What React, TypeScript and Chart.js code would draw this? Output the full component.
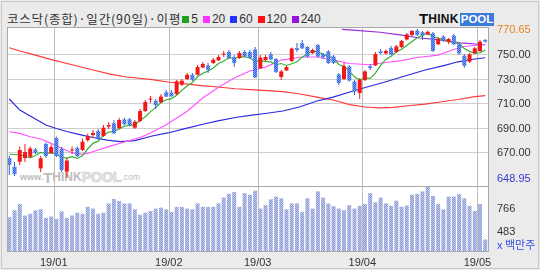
import React, { useEffect, useRef } from "react";
import { Chart, registerables } from "chart.js";

Chart.register(...registerables);

// ---------------- data ----------------
const opens = [
  665.3, 658.2, 662.3, 665.3, 666.4, 672.3, 656.9, 676.8, 669.4, 681.7,
  672.7, 654.2, 671.5, 673.5, 671.9, 680.0, 684.1, 687.4, 683.3, 691.1,
  693.7, 689.6, 696.9, 696.9, 690.1, 695.5, 703.7, 713.1, 712.1, 710.8,
  719.0, 718.8, 717.6, 725.2, 729.8, 733.3, 733.3, 739.2, 741.0, 742.9,
  745.1, 749.8, 751.9, 747.6, 747.0, 751.9, 751.9, 753.9, 738.8, 745.3,
  750.0, 746.2, 731.5, 736.8, 744.5, 755.1, 759.0, 756.0, 751.1, 757.6,
  750.2, 752.3, 748.2, 733.5, 729.8, 740.0, 727.8, 718.4, 729.0, 740.2,
  740.9, 752.4, 750.7, 755.1, 751.9, 756.0, 762.1, 765.8, 769.4, 768.0,
  766.3, 767.1, 758.2, 764.4, 760.0, 765.2, 758.2, 748.9, 744.0, 750.8,
  752.7, 761.7,
];
const highs = [
  667.0, 662.1, 674.6, 676.8, 674.7, 673.5, 667.2, 678.0, 676.4, 682.9,
  674.3, 665.3, 674.7, 674.7, 681.3, 685.3, 688.2, 689.0, 692.3, 694.5,
  696.4, 698.2, 698.2, 698.0, 696.4, 705.3, 712.7, 716.0, 713.5, 717.6,
  720.9, 720.9, 729.0, 729.8, 734.7, 734.7, 741.3, 743.7, 742.9, 747.0,
  749.4, 752.7, 753.5, 749.4, 752.7, 753.5, 753.5, 756.0, 749.4, 749.4,
  751.9, 747.0, 737.2, 740.9, 755.5, 759.2, 761.7, 756.8, 754.7, 758.4,
  751.1, 753.5, 749.4, 734.7, 742.9, 741.3, 729.0, 730.7, 737.2, 742.1,
  751.9, 754.3, 753.9, 756.8, 757.6, 761.7, 767.4, 769.8, 770.65, 769.0,
  769.4, 768.2, 764.1, 765.8, 763.3, 766.6, 759.2, 750.2, 751.1, 756.0,
  761.7, 762.5,
];
const lows = [
  651.5, 650.7, 659.6, 662.1, 665.3, 668.6, 653.9, 665.3, 668.6, 666.2,
  653.9, 648.95, 668.6, 666.2, 671.1, 678.7, 681.7, 680.0, 682.7, 689.0,
  684.9, 689.0, 692.3, 691.5, 689.0, 694.7, 702.9, 710.2, 705.3, 710.2,
  715.1, 715.1, 716.8, 724.1, 729.0, 728.2, 732.7, 738.8, 734.7, 742.1,
  744.5, 747.8, 746.2, 739.9, 746.2, 747.8, 746.2, 730.7, 738.0, 744.5,
  745.3, 734.7, 729.0, 736.4, 743.7, 751.9, 754.3, 747.4, 750.2, 747.4,
  746.2, 742.1, 742.1, 724.9, 729.0, 727.8, 716.8, 713.5, 728.2, 737.2,
  740.4, 749.8, 749.8, 749.4, 751.1, 755.1, 761.3, 764.9, 764.9, 761.7,
  765.8, 751.9, 757.6, 760.0, 758.4, 757.6, 749.4, 739.1, 742.9, 750.2,
  751.9, 759.6,
];
const closes = [
  659.6, 652.3, 671.9, 670.2, 673.1, 669.4, 665.1, 667.0, 674.3, 667.0,
  655.5, 663.3, 672.3, 667.0, 678.7, 683.1, 685.8, 681.4, 690.1, 692.3,
  685.5, 696.4, 692.9, 692.3, 695.0, 703.7, 711.1, 713.9, 708.6, 715.5,
  715.5, 715.8, 728.0, 728.4, 733.3, 729.3, 739.6, 742.1, 737.4, 745.6,
  747.8, 750.6, 747.0, 742.9, 751.1, 748.4, 747.0, 731.1, 747.4, 747.8,
  745.8, 735.6, 736.0, 739.6, 754.7, 753.5, 754.9, 748.2, 753.5, 748.2,
  747.8, 742.9, 742.9, 726.6, 740.4, 728.6, 719.6, 729.0, 736.0, 738.8,
  750.2, 751.1, 752.7, 749.8, 756.4, 760.9, 766.3, 769.0, 765.8, 765.8,
  768.4, 752.7, 762.5, 761.3, 762.5, 758.2, 750.8, 740.7, 750.0, 754.9,
  760.3, 760.3,
];
// volume, x 백만주
const volumes = [
  652, 737, 813, 673, 694, 737, 749, 644, 661, 631,
  724, 644, 673, 707, 694, 779, 758, 694, 707, 821,
  876, 851, 821, 821, 749, 682, 707, 728, 758, 770,
  749, 715, 779, 779, 758, 749, 821, 779, 779, 779,
  821, 893, 939, 960, 779, 948, 927, 977, 758, 800,
  872, 905, 884, 749, 821, 821, 715, 884, 758, 969,
  893, 821, 787, 758, 737, 800, 758, 791, 813, 948,
  834, 893, 821, 791, 855, 779, 796, 927, 939, 969,
  1032, 914, 813, 749, 905, 905, 935, 884, 791, 728,
  813, 378,
];
// moving averages
const ma5 = [
  668.4, 668.2, 667.8, 667.0, 665.4, 667.4, 669.9, 668.9, 669.8, 668.5,
  665.8, 665.3, 666.5, 665.0, 667.4, 672.9, 677.3, 679.1, 683.8, 686.5,
  687.0, 689.1, 691.4, 691.9, 692.4, 696.0, 699.0, 703.2, 706.5, 710.6,
  712.9, 713.8, 716.6, 720.6, 724.2, 726.9, 731.7, 734.6, 736.4, 738.9,
  742.5, 744.6, 747.2, 746.7, 747.8, 747.9, 747.2, 744.0, 744.9, 744.3,
  743.8, 741.5, 742.5, 740.9, 742.3, 743.9, 747.7, 750.2, 752.9, 751.6,
  750.5, 748.1, 747.1, 741.7, 740.1, 736.3, 731.6, 728.9, 730.7, 730.4,
  734.7, 741.0, 745.8, 748.5, 752.0, 754.2, 757.2, 760.4, 763.6, 765.5,
  767.1, 764.4, 763.1, 762.2, 760.7, 759.4, 759.1, 754.7, 752.4, 750.9,
  751.3, 753.5,
];
const ma20Idx = [0, 2, 4, 6, 8, 10, 12, 14, 15, 17, 19, 22, 25, 27, 30, 34, 37, 40, 43, 46, 49, 52, 56, 59, 62, 65, 69, 72, 75, 78, 82, 85, 87, 91];
const ma20 = [686.8, 685.5, 682.7, 680.9, 677.3, 673.3, 669.7, 668.4, 669.2, 671.9, 674.6, 678.4, 682.1, 685.8, 692.5, 703.5, 714.3, 723.1, 730.7, 736.4, 739.6, 745.3, 747.8, 747.8, 745.3, 742.5, 741.5, 743.3, 744.9, 747.4, 749.4, 753.9, 756.4, 758.0];
const ma60Idx = [0, 2, 4.5, 7, 9, 11, 13.5, 16, 18.7, 21.2, 24, 27.3, 30.3, 33.6, 36.8, 39.9, 43.2, 46.4, 48.9, 52.3, 55.6, 58.8, 61.9, 65.1, 68.4, 71.5, 74.7, 79.5, 82.7, 85.8, 89, 91];
const ma60 = [713.5, 704.5, 698.4, 692.3, 689.4, 687.0, 684.5, 682.1, 680.0, 678.8, 679.6, 683.3, 685.8, 689.4, 692.7, 695.6, 698.4, 700.4, 701.7, 703.7, 707.2, 711.9, 715.1, 719.2, 723.3, 727.0, 731.1, 737.2, 740.4, 743.9, 746.2, 747.2];
const ma120Idx = [0, 2, 4.5, 8.4, 12.2, 16, 19.3, 22.1, 27.3, 30.3, 33.6, 36.8, 39.9, 43.2, 47, 52.3, 55.6, 58.8, 61.9, 65.1, 68, 70.9, 73.4, 76.6, 79.5, 82.7, 85.8, 89, 91];
const ma120 = [755.4, 752.7, 750.0, 745.3, 741.3, 737.2, 733.9, 731.7, 729.3, 727.4, 725.8, 724.5, 723.3, 721.9, 720.9, 719.5, 717.6, 715.1, 712.7, 709.0, 707.0, 706.2, 706.7, 708.2, 709.4, 711.3, 713.1, 715.4, 716.2];
const ma240Idx = [63.6, 67, 70.9, 74.7, 78.5, 82.3, 86.2, 91];
const ma240 = [770.4, 769.4, 768.0, 765.8, 763.3, 761.8, 759.4, 757.8];

const monthLabels = ["19/01", "19/02", "19/03", "19/04", "19/05"];
const monthStartIdx = [9, 31, 48, 68, 90];
const priceTicks = [750, 730, 710, 690, 670];
const volumeTicks = [766, 483];
const volumeUnit = "x 백만주";
const titleText = "코스닥(종합)·일간(90일)·이평";
const legendLabels = ["5", "20", "60", "120", "240"];
const legendColors = ["#22a022", "#ff33ff", "#2233ff", "#ff1111", "#9911dd"];

// ---------------- layout constants ----------------
const W = 540;
const H = 270;
const AREA = { left: 7, right: 489, top: 27, priceBottom: 186, bottom: 252 };
const PRICE_TOP = 772.3;
const PRICE_LOW = 642.5;
const VOL_LOW = 225;
const VOL_HIGH = 1035;
const X_MIN = -0.44;
const X_MAX = 91.72;

const areaH = AREA.bottom - AREA.top;
const priceMin = PRICE_TOP - (PRICE_TOP - PRICE_LOW) * (areaH / (AREA.priceBottom - AREA.top));
const volMax = VOL_LOW + (VOL_HIGH - VOL_LOW) * (areaH / (AREA.bottom - AREA.priceBottom));

const LABEL_FONT = "11px 'Liberation Sans', Arial, sans-serif";

function makePattern(ctx: CanvasRenderingContext2D, c1: string, c2: string) {
  const cv = document.createElement("canvas");
  cv.width = 2;
  cv.height = 2;
  const g = cv.getContext("2d")!;
  g.fillStyle = c1;
  g.fillRect(0, 0, 2, 2);
  g.fillStyle = c2;
  g.fillRect(0, 0, 1, 1);
  g.fillRect(1, 1, 1, 1);
  return ctx.createPattern(cv, "repeat") as CanvasPattern;
}

const panelPlugin = {
  id: "panelPlugin",
  beforeDatasetsDraw(chart: any) {
    const { ctx, chartArea: a, scales } = chart;
    const xs = scales.x;
    const ys = scales.y;
    ctx.save();
    ctx.lineWidth = 1;
    ctx.strokeStyle = "#cfcfcf";
    priceTicks.forEach((v) => {
      const py = Math.round(ys.getPixelForValue(v)) + 0.5;
      ctx.beginPath();
      ctx.moveTo(a.left, py);
      ctx.lineTo(a.right, py);
      ctx.stroke();
    });
    ctx.strokeStyle = "#bdbdbd";
    monthStartIdx.forEach((idx) => {
      const px = Math.round(xs.getPixelForValue(idx - 0.5)) + 0.5;
      ctx.beginPath();
      ctx.moveTo(px, a.top);
      ctx.lineTo(px, a.bottom);
      ctx.stroke();
    });
    ctx.restore();
  },
  afterDraw(chart: any) {
    const { ctx, chartArea: a, scales } = chart;
    const xs = scales.x;
    const ys = scales.y;
    const yv = scales.yv;
    ctx.save();
    ctx.lineWidth = 1;
    ctx.strokeStyle = "#a9a9a9";
    ctx.strokeRect(a.left + 0.5, a.top + 0.5, a.right - a.left - 1, a.bottom - a.top - 1);
    const sep = Math.round(ys.getPixelForValue(PRICE_LOW)) + 0.5;
    ctx.beginPath();
    ctx.moveTo(a.left, sep);
    ctx.lineTo(a.right, sep);
    ctx.stroke();

    ctx.font = LABEL_FONT;
    ctx.textBaseline = "middle";
    ctx.textAlign = "left";
    const lx = a.right + 8;
    const maxP = Math.max(...highs);
    const minP = Math.min(...lows);
    ctx.fillStyle = "#e8801e";
    ctx.fillText(maxP.toFixed(2), lx, ys.getPixelForValue(maxP) + 1);
    ctx.fillStyle = "#3a3ad6";
    ctx.fillText(minP.toFixed(2), lx, ys.getPixelForValue(minP) + 1);
    ctx.fillStyle = "#333333";
    priceTicks.forEach((v) => {
      ctx.fillText(v.toFixed(2), lx, ys.getPixelForValue(v) + 1);
    });
    volumeTicks.forEach((v) => {
      ctx.fillText(String(v), lx, yv.getPixelForValue(v) + 1);
    });
    ctx.fillStyle = "#3350e0";
    ctx.font = "11px 'Noto Sans CJK KR', sans-serif";
    ctx.fillText(volumeUnit, lx, a.bottom - 7);

    ctx.font = LABEL_FONT;
    ctx.fillStyle = "#333333";
    ctx.textAlign = "center";
    monthStartIdx.forEach((idx, k) => {
      ctx.fillText(monthLabels[k], xs.getPixelForValue(idx - 0.5), a.bottom + 11);
    });
    ctx.restore();
  },
};

export default function App() {
  const ref = useRef<HTMLCanvasElement>(null);

  useEffect(() => {
    const canvas = ref.current!;
    const ctx = canvas.getContext("2d")!;
    const bluePat = makePattern(ctx, "#2c5fd8", "#7aa2f4");
    const volPat = makePattern(ctx, "#8796d4", "#c4ccee");
    const RED = "#f01818";
    const BLUE = "#2c5fd8";
    const isUp = closes.map((c, i) => c >= opens[i]);

    const line = (idx: number[], vals: number[], color: string, order: number) => ({
      type: "line" as const,
      data: vals.map((v, k) => ({ x: idx[k], y: v })),
      borderColor: color,
      borderWidth: 1.2,
      pointRadius: 0,
      tension: 0,
      yAxisID: "y",
      order,
    });
    const candleIdx = closes.map((_, i) => i);

    const chart = new Chart(canvas, {
      type: "bar",
      data: {
        datasets: [
          {
            type: "bar",
            data: volumes.map((v, i) => ({ x: i, y: [VOL_LOW, v] })),
            backgroundColor: volPat,
            barThickness: 4,
            grouped: false,
            inflateAmount: 0,
            borderWidth: 0,
            yAxisID: "yv",
            order: 20,
          } as any,
          line(ma240Idx, ma240, "#9a2ed8", 15),
          line(ma120Idx, ma120, "#ff3a3a", 14),
          line(ma60Idx, ma60, "#2a2ae0", 13),
          line(ma20Idx, ma20, "#ff55ff", 12),
          line(candleIdx, ma5, "#34b034", 11),
          {
            type: "bar",
            data: highs.map((h, i) => ({ x: i, y: [lows[i], h] })),
            backgroundColor: isUp.map((u) => (u ? RED : BLUE)),
            barThickness: 1,
            grouped: false,
            inflateAmount: 0,
            borderWidth: 0,
            yAxisID: "y",
            order: 2,
          } as any,
          {
            type: "bar",
            data: opens.map((o, i) => ({ x: i, y: [o, closes[i]] })),
            backgroundColor: isUp.map((u) => (u ? RED : bluePat)),
            barThickness: 4,
            grouped: false,
            inflateAmount: 0,
            borderWidth: 0,
            yAxisID: "y",
            order: 1,
          } as any,
        ],
      },
      options: {
        animation: false,
        responsive: false,
        devicePixelRatio: 1,
        layout: {
          padding: { left: AREA.left, right: W - AREA.right, top: AREA.top, bottom: H - AREA.bottom },
        },
        plugins: { legend: { display: false }, tooltip: { enabled: false } },
        scales: {
          x: { type: "linear", min: X_MIN, max: X_MAX, offset: false, display: false },
          y: { type: "linear", min: priceMin, max: PRICE_TOP, display: false },
          yv: { type: "linear", min: VOL_LOW, max: volMax, display: false },
        },
      } as any,
      plugins: [panelPlugin],
    });
    return () => chart.destroy();
  }, []);

  return (
    <div
      style={{
        position: "absolute",
        left: 0,
        top: 0,
        width: W,
        height: H,
        background: "#ebebeb",
        overflow: "hidden",
        fontFamily: "'Liberation Sans', Arial, sans-serif",
      }}
    >
      <div
        style={{
          position: "absolute",
          left: 1,
          top: 1,
          width: W - 4,
          height: H - 4,
          border: "1px solid #c9c9c9",
        }}
      />
      {/* title & legend */}
      <div
        style={{
          position: "absolute",
          left: 7,
          top: 12,
          height: 14,
          lineHeight: "14px",
          whiteSpace: "nowrap",
          color: "#333",
          display: "flex",
          alignItems: "center",
        }}
      >
        <span style={{ fontFamily: "'Noto Sans CJK KR', sans-serif", fontSize: 12.5, letterSpacing: 0.8 }}>
          {titleText}
        </span>
        {legendLabels.map((lab, k) => (
          <React.Fragment key={lab}>
            <span
              style={{
                display: "inline-block",
                width: 7,
                height: 7,
                background: legendColors[k],
                marginLeft: k === 0 ? 1 : 5,
                marginRight: 2,
              }}
            />
            <span style={{ fontSize: 12, fontFamily: "'Liberation Sans', Arial, sans-serif" }}>{lab}</span>
          </React.Fragment>
        ))}
      </div>
      {/* logo */}
      <div
        style={{
          position: "absolute",
          left: 419,
          top: 12,
          height: 14,
          display: "flex",
          alignItems: "flex-end",
          whiteSpace: "nowrap",
          fontWeight: 900,
          lineHeight: "14px",
        }}
      >
        <span style={{ color: "#111", fontSize: 15 }}>T</span>
        <span style={{ color: "#111", fontSize: 12, letterSpacing: 0.3 }}>HINK</span>
        <span
          style={{
            marginLeft: 1,
            background: "#3b7bdc",
            color: "#fff",
            fontSize: 11.5,
            padding: "0 1px",
            lineHeight: "13px",
          }}
        >
          POOL
        </span>
      </div>
      {/* plot background */}
      <div
        style={{
          position: "absolute",
          left: AREA.left,
          top: AREA.top,
          width: AREA.right - AREA.left,
          height: AREA.bottom - AREA.top,
          background: "#ffffff",
        }}
      />
      {/* watermark */}
      <div
        style={{
          position: "absolute",
          left: 20,
          top: 170,
          whiteSpace: "nowrap",
          fontWeight: "bold",
          color: "#bdbdbd",
          lineHeight: "15px",
          display: "flex",
          alignItems: "flex-end",
        }}
      >
        <span style={{ fontSize: 9 }}>www.</span>
        <span style={{ fontSize: 15 }}>T</span>
        <span style={{ fontSize: 12 }}>HINK</span>
        <span style={{ fontSize: 14, color: "#eeeeee", WebkitTextStroke: "0.7px #c8c8c8" }}>POOL</span>
        <span style={{ fontSize: 8.5, fontWeight: "normal" }}>.com</span>
      </div>
      <canvas
        ref={ref}
        width={W}
        height={H}
        style={{ position: "absolute", left: 0, top: 0, width: W, height: H }}
      />
    </div>
  );
}
